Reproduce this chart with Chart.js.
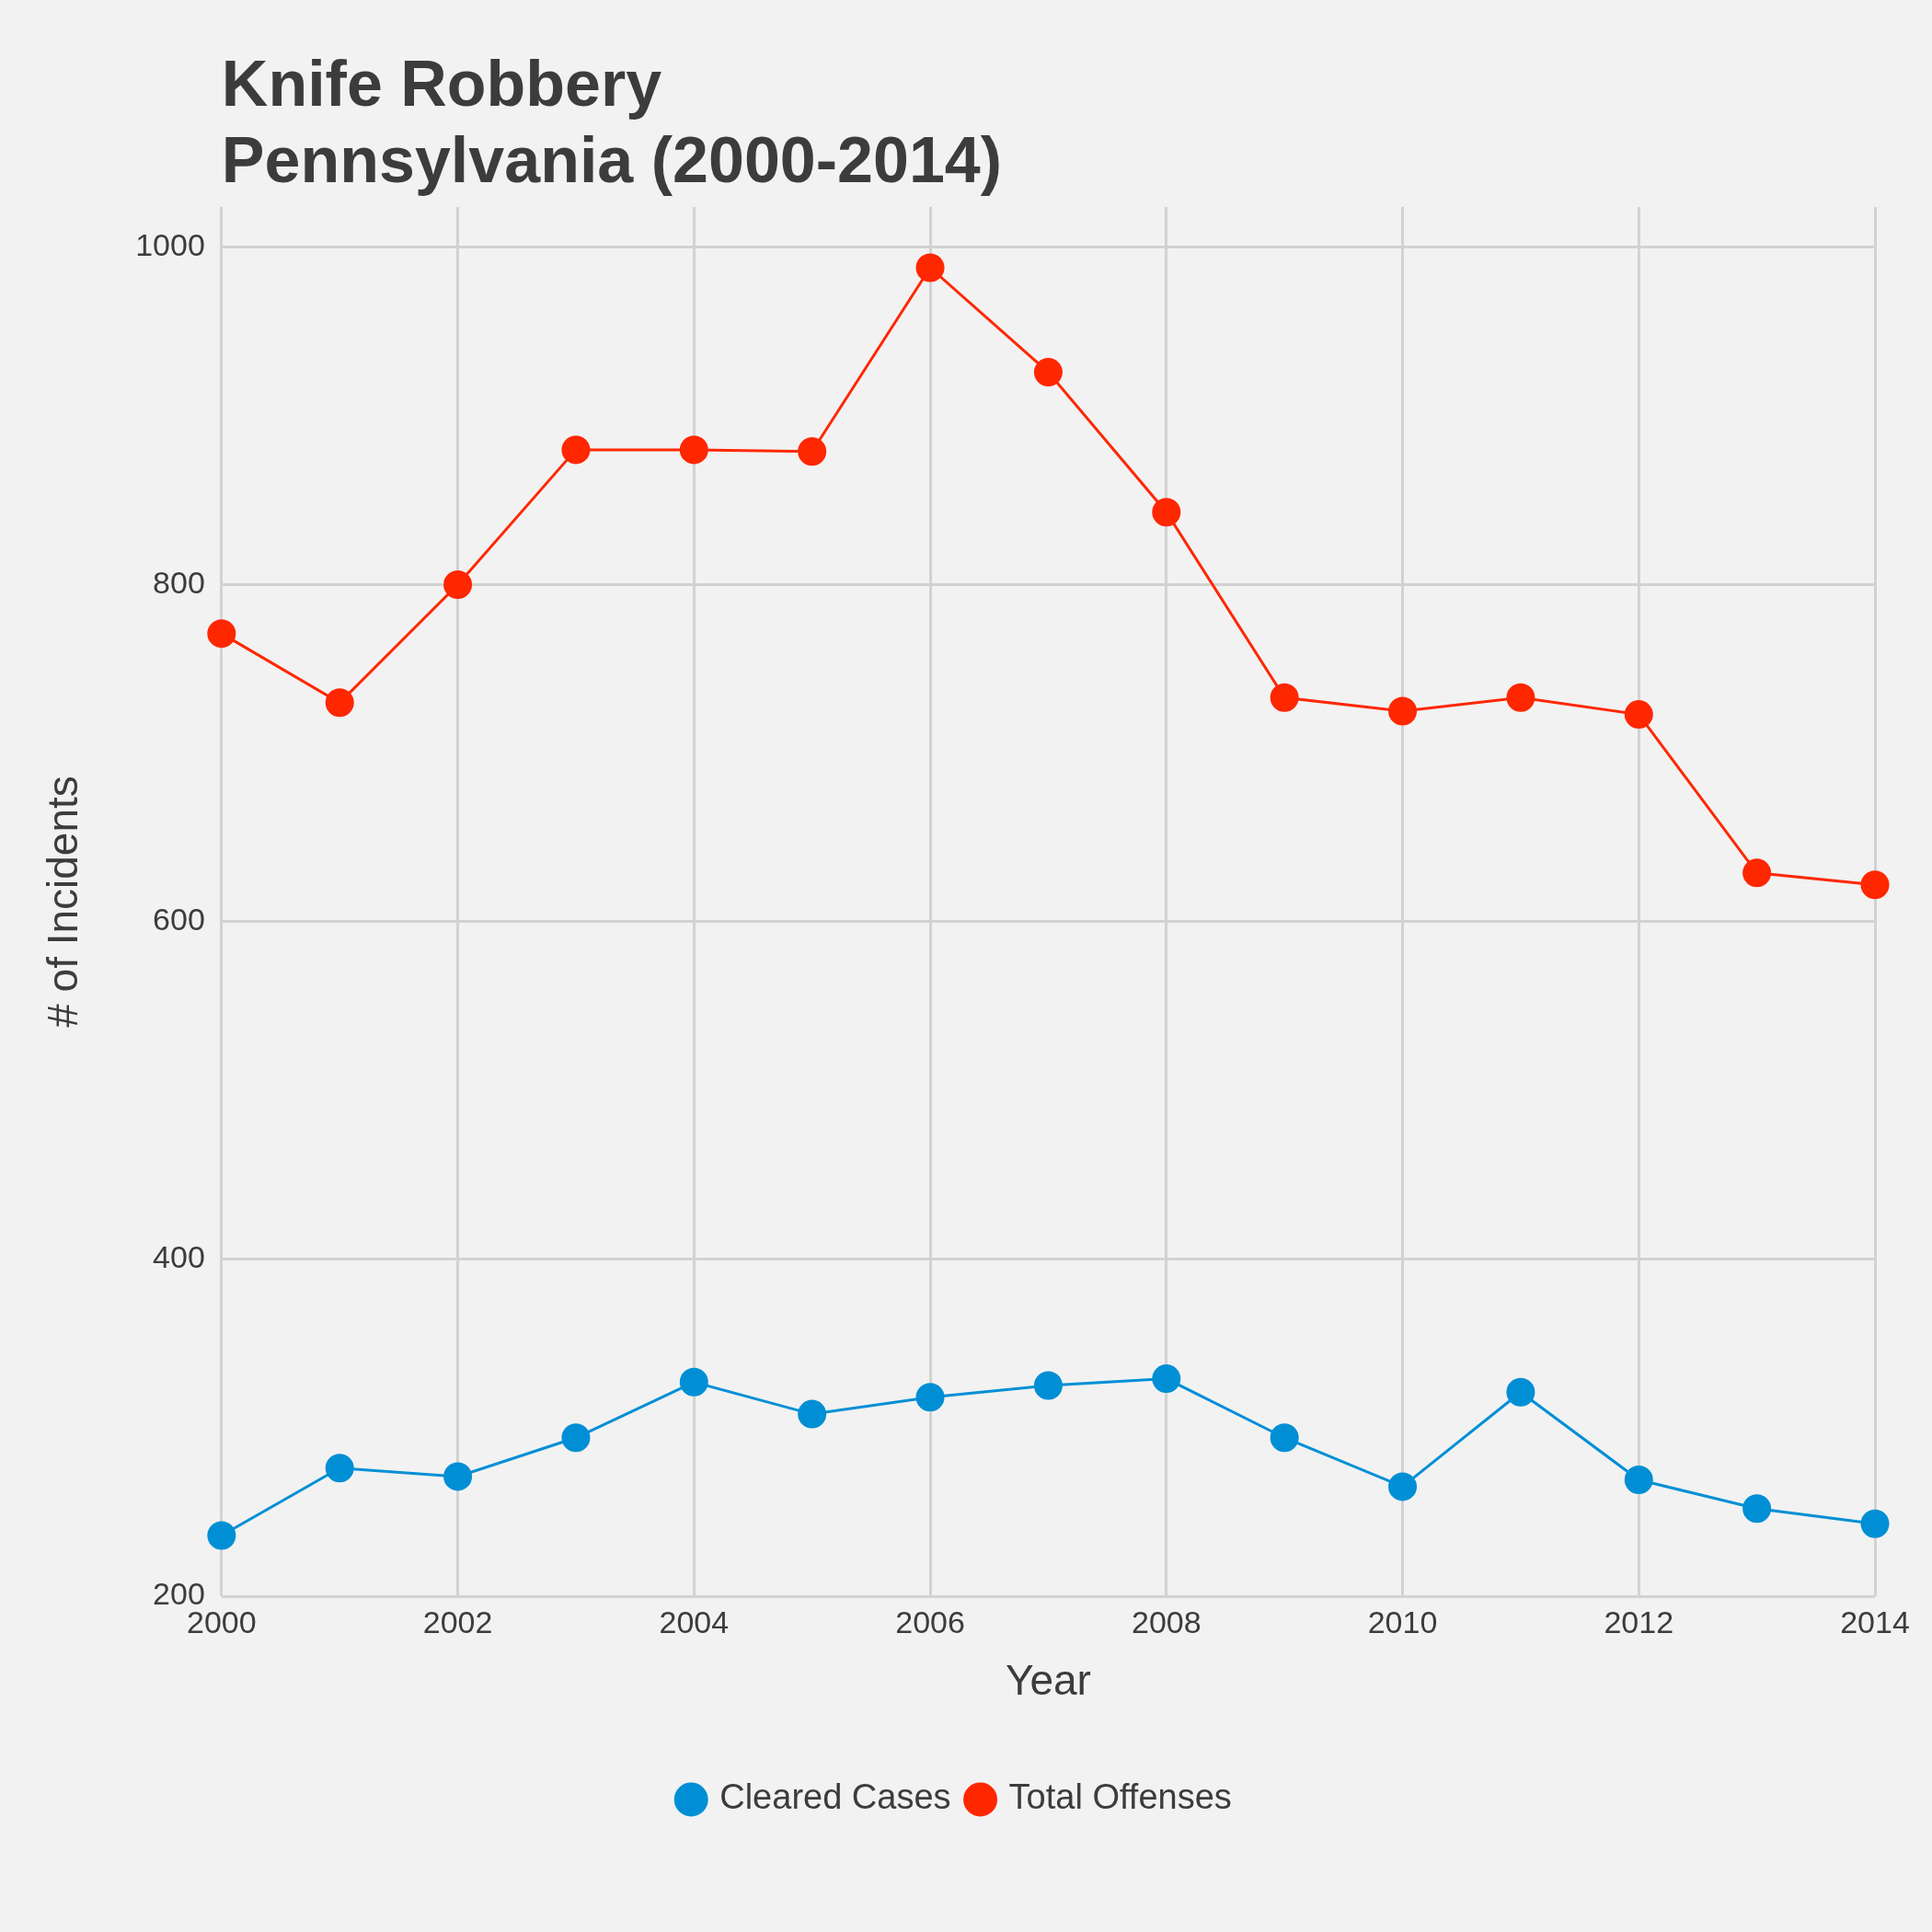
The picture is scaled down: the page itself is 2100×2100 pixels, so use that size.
<html>
<head>
<title>Knife Robbery</title>
<script src="https://cdn.jsdelivr.net/npm/chart.js"></script>
<style>
  body { margin: 0; background: #f2f2f2; }
  canvas { display: block; }
</style>
</head>
<body>
<canvas id="chart" width="2100" height="2100"></canvas>
<script>
const years = [2000, 2001, 2002, 2003, 2004, 2005, 2006, 2007, 2008, 2009, 2010, 2011, 2012, 2013, 2014];
const clearedCases = [236, 276, 271, 294, 327, 308, 318, 325, 329, 294, 265, 321, 269, 252, 243];
const totalOffenses = [771, 730, 800, 880, 880, 879, 988, 926, 843, 733, 725, 733, 723, 629, 622];
const titleLines = ['Knife Robbery', 'Pennsylvania (2000-2014)'];

const titlePlugin = {
  id: 'leftTitle',
  afterDraw(chart) {
    const ctx = chart.ctx;
    ctx.save();
    ctx.fillStyle = '#3c3c3c';
    ctx.font = 'bold 70px "Liberation Sans", Arial, sans-serif';
    ctx.textBaseline = 'alphabetic';
    ctx.fillText(titleLines[0], chart.chartArea.left, 115);
    ctx.fillText(titleLines[1], chart.chartArea.left, 198);
    ctx.restore();
  }
};

const bgPlugin = {
  id: 'bg',
  beforeDraw(chart) {
    const ctx = chart.ctx;
    ctx.save();
    ctx.fillStyle = '#f2f2f2';
    ctx.fillRect(0, 0, chart.width, chart.height);
    ctx.restore();
  }
};

const font = '"Liberation Sans", Arial, sans-serif';

new Chart(document.getElementById('chart').getContext('2d'), {
  type: 'line',
  data: {
    datasets: [
      { label: 'Cleared Cases', data: years.map((y, i) => ({ x: y, y: clearedCases[i] })),
        borderColor: '#008fd5', backgroundColor: '#008fd5', borderWidth: 3, pointRadius: 14, pointHoverRadius: 14 },
      { label: 'Total Offenses', data: years.map((y, i) => ({ x: y, y: totalOffenses[i] })),
        borderColor: '#ff2700', backgroundColor: '#ff2700', borderWidth: 3, pointRadius: 14, pointHoverRadius: 14 }
    ]
  },
  options: {
    responsive: false,
    devicePixelRatio: 1,
    animation: false,
    clip: false,
    layout: { padding: { top: 225, left: 40, right: 62, bottom: 115 } },
    plugins: {
      legend: {
        position: 'bottom',
        labels: { usePointStyle: true, pointStyle: 'circle', boxWidth: 24, boxHeight: 24, padding: 20,
          color: '#3c3c3c', font: { size: 38, family: font } }
      },
      tooltip: { enabled: false }
    },
    scales: {
      x: {
        type: 'linear', min: 2000, max: 2014,
        ticks: { stepSize: 2, color: '#3c3c3c', padding: 10, font: { size: 34, family: font },
          callback: v => String(v) },
        grid: { color: '#d2d2d2', lineWidth: 3, drawTicks: false },
        border: { display: false },
        title: { display: true, text: 'Year', color: '#3c3c3c', padding: { top: 6, bottom: 60 },
          font: { size: 46, family: font } }
      },
      y: {
        min: 200, max: 1024,
        afterBuildTicks: axis => { axis.ticks = [200, 400, 600, 800, 1000].map(v => ({ value: v })); },
        ticks: { color: '#3c3c3c', padding: 18, font: { size: 34, family: font }, callback: v => String(v) },
        grid: { color: '#d2d2d2', lineWidth: 3, drawTicks: false },
        border: { display: false },
        title: { display: true, text: '# of Incidents', color: '#3c3c3c', padding: { bottom: 30 },
          font: { size: 46, family: font } }
      }
    }
  },
  plugins: [bgPlugin, titlePlugin]
});
</script>
</body>
</html>
